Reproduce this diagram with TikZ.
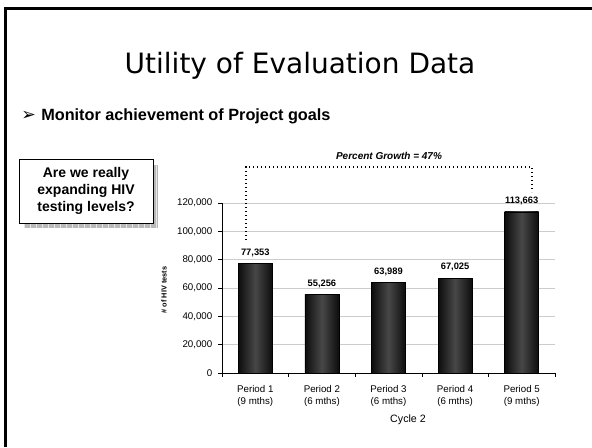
\documentclass[tikz,border=0pt]{standalone}
\usepackage{fontspec}
\setmainfont{Liberation Sans}
\newfontfamily\titlefont{DejaVu Sans}
\newfontfamily\symfont{DejaVu Sans}
\usetikzlibrary{positioning}

\begin{document}
\begin{tikzpicture}[x=0.75pt,y=-0.75pt,
    ticklab/.style={font=\fontsize{7.3}{9}\selectfont},
    vallab/.style={font=\bfseries\fontsize{7}{8}\selectfont},
    hivbar/.style={draw=black, left color=black!95, right color=black!95, middle color=black!72}]
    \useasboundingbox (0,0) rectangle (592,447);
    % slide frame
    \draw[line width=2.2pt] (5.5,447) -- (5.5,8.5) -- (592,8.5);
    \node[anchor=base] (title) at (300,73) {\titlefont\fontsize{21}{26}\selectfont Utility of Evaluation Data};
    \node[anchor=base west, inner sep=0pt] (arrow) at (21,120) {\symfont\fontsize{13}{14}\selectfont ➢};
    \node[anchor=base west, inner sep=0pt] (goal) at (41,120) {\bfseries\fontsize{12.2}{14}\selectfont Monitor achievement of Project goals};
    % callout with shaded shadow
    \fill[gray!55] (24,165) rectangle (158,228);
    \draw[white!80!gray, xstep=6, ystep=6, shift={(24,165)}] (0,0) grid (134,63);
    \draw[fill=white] (19,159) rectangle (153,223);
    \node[align=center, font=\bfseries\fontsize{10.5}{12.5}\selectfont] (question) at (86,191) {Are we really\\expanding HIV\\testing levels?};
    % grid and axes
    \foreach \k/\lab in {1/{20,000}, 2/{40,000}, 3/{60,000}, 4/{80,000}, 5/{100,000}, 6/{120,000}} {
        \draw[gray!40] (222,373-28.33*\k) -- (555,373-28.33*\k);
        \draw (218,373-28.33*\k) -- (222,373-28.33*\k);
        \node[ticklab, anchor=east] (ylab\k) at (217,373-28.33*\k) {\lab};
    }
    \node[ticklab, anchor=east] (ylab0) at (217,373) {0};
    \draw (218,373) -- (222,373);
    \draw (222,203) -- (222,373) -- (555,373);
    \foreach \j in {0,...,5}
        \draw (222+66.6*\j,373) -- (222+66.6*\j,377);
    \node[rotate=90, font=\bfseries\fontsize{5.5}{6}\selectfont] (ytitle) at (164,290) {\# of HIV tests};
    % bars
    \foreach \i/\v/\lab/\m in {1/77.353/{77,353}/9, 2/55.256/{55,256}/6, 3/63.989/{63,989}/6, 4/67.025/{67,025}/6, 5/113.663/{113,663}/9} {
        \pgfmathsetmacro{\cx}{222+66.6*(\i-0.5)}
        \pgfmathsetmacro{\ytop}{373-1.41667*\v}
        \draw[hivbar] (\cx-17,373) rectangle (\cx+17,\ytop);
        \node[vallab, anchor=south] (val\i) at (\cx,\ytop-2) {\lab};
        \node[ticklab, align=center, anchor=north] (per\i) at (\cx,381) {Period \i\\(\m{} mths)};
    }
    \node[font=\fontsize{8}{10}\selectfont] (cycle) at (408,420) {Cycle 2};
    % growth bracket
    \coordinate (gl) at (246,240);
    \coordinate (gr) at (532,192);
    \draw[dotted, line width=1pt] (gl) |- (gr |- 0,167) -- (gr);
    \node[font=\bfseries\itshape\fontsize{7.5}{9}\selectfont] (growth) at (389,156) {Percent Growth = 47\%};
\end{tikzpicture}
\end{document}
